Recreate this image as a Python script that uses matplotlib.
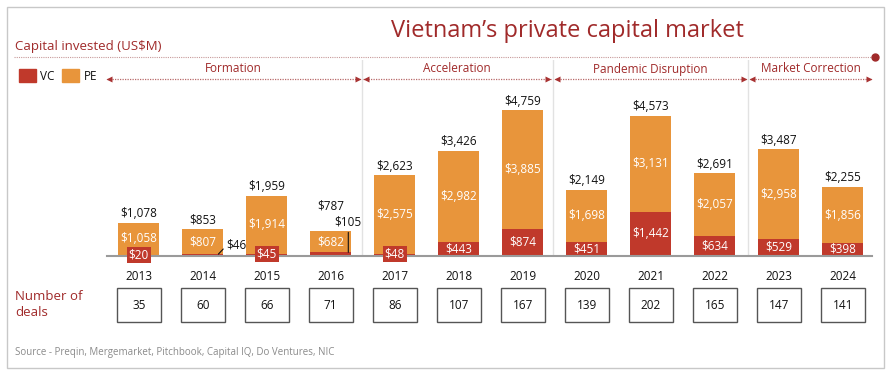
import matplotlib
matplotlib.use("Agg")
import matplotlib.pyplot as plt
from matplotlib.patches import Rectangle

plt.rcParams['font.family'] = ['Open Sans', 'DejaVu Sans']

years = ['2013', '2014', '2015', '2016', '2017', '2018', '2019', '2020', '2021', '2022', '2023', '2024']
vc = [20, 46, 45, 105, 48, 443, 874, 451, 1442, 634, 529, 398]
pe = [1058, 807, 1914, 682, 2575, 2982, 3885, 1698, 3131, 2057, 2958, 1856]
totals = [1078, 853, 1959, 787, 2623, 3426, 4759, 2149, 4573, 2691, 3487, 2255]
deals = [35, 60, 66, 71, 86, 107, 167, 139, 202, 165, 147, 141]
vc_label_mode = ['box', 'leader', 'box', 'vline', 'box', 'inside', 'inside', 'inside', 'inside', 'inside', 'inside', 'inside']
phases = ['Formation', 'Acceleration', 'Pandemic Disruption', 'Market Correction']
phase_spans = [(-0.5, 3.46), (3.51, 6.44), (6.5, 9.49), (9.55, 11.45)]

W, H = 894, 380
DARK = '#a02a2a'
VC_C = '#c0392b'
PE_C = '#e8953b'

fig = plt.figure(figsize=(W / 100, H / 100), dpi=100)
fig.patch.set_facecolor('white')

# overlay in pixel coordinates for decorations
ov = fig.add_axes([0, 0, 1, 1])
ov.set_xlim(0, W)
ov.set_ylim(H, 0)
ov.axis('off')

ov.add_patch(Rectangle((7, 7), 877, 361, fill=False, ec='#c8c8c8', lw=1))
ov.text(567, 37, 'Vietnam\u2019s private capital market', ha='center', va='baseline',
        fontsize=17, color=DARK)
ov.text(15, 50, 'Capital invested (US$M)', ha='left', va='baseline', fontsize=9.5, color=DARK)
ov.plot([14, 875], [57.3, 57.3], ls=(0, (1, 1)), color='#c79a9a', lw=0.8)
ov.plot([875], [57.3], 'o', ms=5, color=DARK)

# legend
ov.add_patch(Rectangle((19, 69), 16.5, 12.5, color=VC_C))
ov.text(40.5, 76, 'VC', ha='left', va='center', fontsize=8.5, color='#111')
ov.add_patch(Rectangle((62, 69), 16.5, 12.5, color=PE_C))
ov.text(83.5, 76, 'PE', ha='left', va='center', fontsize=8.5, color='#111')

ov.text(15, 297, 'Number of', ha='left', va='center', fontsize=9.5, color=DARK)
ov.text(15, 313, 'deals', ha='left', va='center', fontsize=9.5, color=DARK)
ov.text(15, 353, 'Source - Preqin, Mergemarket, Pitchbook, Capital IQ, Do Ventures, NIC',
        ha='left', va='center', fontsize=7, color='#8a8a8a')

# main bar axes
x0px, x1px, basepx, toppx = 107, 872, 255.5, 60
c0, step = 138.7, 64.0
pxu = 0.0305
ax = fig.add_axes([x0px / W, (H - basepx) / H, (x1px - x0px) / W, (basepx - toppx) / H])
ax.patch.set_alpha(0)
ax.set_xlim((x0px - c0) / step, (x1px - c0) / step)
ax.set_ylim(0, (basepx - toppx) / pxu)
for s in ['top', 'right', 'left']:
    ax.spines[s].set_visible(False)
ax.spines['bottom'].set_color('#9a9a9a')
ax.spines['bottom'].set_linewidth(1.5)
ax.set_yticks([])
xs = list(range(len(years)))
ax.set_xticks(xs)
ax.set_xticklabels(years, fontsize=8.5, color='#111')
ax.tick_params(axis='x', length=0, pad=10.5)

for xv in [3.49, 6.48, 9.52]:
    ax.axvline(xv, color='#e2e2e2', lw=1, zorder=0)

bw = 0.635
ax.bar(xs, vc, width=bw, color=VC_C, zorder=2)
ax.bar(xs, pe, bottom=vc, width=bw, color=PE_C, zorder=2)

fs = 8.5
for i in xs:
    ax.text(i, vc[i] + pe[i] / 2, f'${pe[i]:,}', ha='center', va='center', color='white', fontsize=fs, zorder=3)
    off = 18 if vc_label_mode[i] == 'vline' else 6.5
    ax.annotate(f'${totals[i]:,}', (i, totals[i]), xytext=(0, off), textcoords='offset points',
                ha='center', va='center', fontsize=fs, color='#111')
    mode = vc_label_mode[i]
    lab = f'${vc[i]:,}'
    if mode == 'inside':
        ax.text(i, vc[i] / 2, lab, ha='center', va='center', color='white', fontsize=fs, zorder=3)
    elif mode == 'box':
        ax.text(i, vc[i], lab, ha='center', va='center', color='white', fontsize=fs, zorder=4,
                bbox=dict(boxstyle='square,pad=0.15', fc=VC_C, ec='none'))
    elif mode == 'leader':
        ax.annotate(lab, (i + 0.245, vc[i]), xytext=(5.5, 6.7), textcoords='offset points',
                    ha='left', va='center', fontsize=fs, color='#111',
                    arrowprops=dict(arrowstyle='-', lw=0.8, color='#111', relpos=(0, 0.4),
                                    shrinkA=0, shrinkB=0))
    elif mode == 'vline':
        ax.annotate(lab, (i + 0.275, vc[i]), xytext=(0, 22), textcoords='offset points',
                    ha='center', va='center', fontsize=fs, color='#111', zorder=4,
                    arrowprops=dict(arrowstyle='-', lw=0.8, color='#111', relpos=(0.5, 0),
                                    shrinkA=1, shrinkB=0))

# phase arrows
for name, (a, b) in zip(phases, phase_spans):
    pa = c0 + a * step
    pb = c0 + b * step
    ov.plot([pa, pb], [79.3, 79.3], ls=(0, (1, 1)), color='#b86a6a', lw=0.9)
    ov.plot([pa + 2.5], [79.3], marker='<', ms=5, color='#a83232', mec='none')
    ov.plot([pb - 2.5], [79.3], marker='>', ms=5, color='#a83232', mec='none')
    ov.text((pa + pb) / 2, 69, name, ha='center', va='center', fontsize=8.5, color=DARK)

# deals row
dtop, dbot = 288.3, 322.3
ax2 = fig.add_axes([x0px / W, (H - dbot) / H, (x1px - x0px) / W, (dbot - dtop) / H])
ax2.set_xlim(ax.get_xlim())
ax2.set_ylim(0, 1)
ax2.axis('off')
dw = 44 / step
for i in xs:
    ax2.add_patch(Rectangle((i - dw / 2, 0), dw, 1, fill=False, ec='#555', lw=1, clip_on=False))
    ax2.text(i, 0.5, str(deals[i]), ha='center', va='center', fontsize=8.5, color='#111')

fig.savefig('out.png', dpi=100)
